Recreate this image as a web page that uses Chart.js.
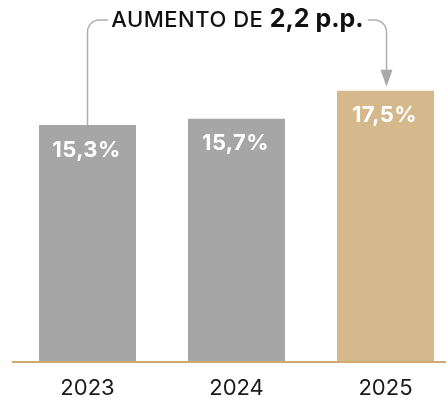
<!DOCTYPE html>
<html>
<head>
<meta charset="utf-8">
<script src="https://cdn.jsdelivr.net/npm/chart.js@4.4.1/dist/chart.umd.min.js"></script>
<style>
  html, body { margin: 0; padding: 0; background: #fff; overflow: hidden; }
  #wrap { width: 460px; height: 398px; position: relative; }
</style>
</head>
<body>
<div id="wrap"><canvas id="chartIndice"></canvas></div>
<script>
// Dados do gráfico
const anos = ['2023', '2024', '2025'];
const valores = [15.3, 15.7, 17.5];
const coresBarras = ['#a6a6a6', '#a6a6a6', '#d5b88c'];

const FONTE = 'Inter, "Noto Sans", sans-serif';

function fmtPct(v) {
    return v.toFixed(1).replace('.', ',') + '%';
}

// Rótulos brancos dentro das barras
const rotulosPlugin = {
    id: 'rotulos',
    afterDatasetsDraw(chart) {
        const ctx = chart.ctx;
        const meta = chart.getDatasetMeta(0);
        ctx.save();
        ctx.fillStyle = '#ffffff';
        ctx.font = '700 22px ' + FONTE;
        ctx.letterSpacing = '0.4px';
        ctx.textAlign = 'center';
        ctx.textBaseline = 'middle';
        meta.data.forEach(function(bar, i) {
            ctx.fillText(fmtPct(valores[i]), bar.x - 1, bar.y + 25);
        });
        ctx.restore();
    }
};

// Chave com seta: "AUMENTO DE x p.p."
const chavePlugin = {
    id: 'chave',
    afterDraw(chart) {
        const ctx = chart.ctx;
        const meta = chart.getDatasetMeta(0);
        const b0 = meta.data[0];
        const b2 = meta.data[meta.data.length - 1];
        const diff = (valores[valores.length - 1] - valores[0]).toFixed(1).replace('.', ',');

        const yLinha = 20;
        const r = 12;
        const txt1 = 'AUMENTO DE ';
        const txt2 = diff + ' p.p.';
        const f1 = '500 22px ' + FONTE;
        const f2 = '700 25px ' + FONTE;
        const ls1 = '0.5px';
        const ls2 = '0px';

        ctx.save();
        ctx.font = f1;
        ctx.letterSpacing = ls1;
        const w1 = ctx.measureText(txt1).width;
        ctx.font = f2;
        ctx.letterSpacing = ls2;
        const w2 = ctx.measureText(txt2).width;
        const meio = meta.data[1].x + 1;
        const x0 = meio - (w1 + w2) / 2;
        const x1 = x0 + w1 + w2;

        ctx.textBaseline = 'alphabetic';
        ctx.textAlign = 'left';
        ctx.fillStyle = '#111111';
        ctx.font = f1;
        ctx.letterSpacing = ls1;
        ctx.fillText(txt1, x0, yLinha + 7);
        ctx.font = f2;
        ctx.letterSpacing = ls2;
        ctx.fillText(txt2, x0 + w1, yLinha + 7);

        ctx.strokeStyle = '#b0b0b0';
        ctx.lineWidth = 1.5;
        // lado esquerdo
        ctx.beginPath();
        ctx.moveTo(b0.x, b0.y);
        ctx.lineTo(b0.x, yLinha + r);
        ctx.arcTo(b0.x, yLinha, b0.x + r, yLinha, r);
        ctx.lineTo(x0 - 3, yLinha);
        ctx.stroke();
        // lado direito
        const xs = b2.x + 1;
        const pontaY = b2.y - 4;
        ctx.beginPath();
        ctx.moveTo(x1 + 4, yLinha);
        ctx.lineTo(xs - r, yLinha);
        ctx.arcTo(xs, yLinha, xs, yLinha + r, r);
        ctx.lineTo(xs, pontaY - 14);
        ctx.stroke();
        // ponta da seta
        ctx.fillStyle = '#a8a8a8';
        ctx.beginPath();
        ctx.moveTo(xs - 6, pontaY - 17);
        ctx.lineTo(xs + 6, pontaY - 17);
        ctx.lineTo(xs, pontaY);
        ctx.closePath();
        ctx.fill();
        ctx.restore();
    }
};

const ctxIndice = document.getElementById('chartIndice').getContext('2d');
new Chart(ctxIndice, {
    type: 'bar',
    data: {
        labels: anos,
        datasets: [{
            data: valores,
            backgroundColor: coresBarras,
            borderWidth: 0,
            barPercentage: 0.651,
            categoryPercentage: 1
        }]
    },
    options: {
        responsive: true,
        maintainAspectRatio: false,
        animation: false,
        layout: { padding: { left: 13, right: 0, top: 0, bottom: 0 } },
        plugins: {
            legend: { display: false },
            tooltip: { enabled: false }
        },
        scales: {
            y: {
                display: false,
                min: 0,
                max: 23.36
            },
            x: {
                grid: { display: false },
                border: { display: true, color: '#cfa96f', width: 2, z: 1 },
                ticks: {
                    color: '#1a1a1a',
                    font: { family: FONTE, size: 22, weight: '400' },
                    padding: 5
                },
                afterFit: function(scale) {
                    scale.height = 36;
                }
            }
        }
    },
    plugins: [rotulosPlugin, chavePlugin]
});
</script>
</body>
</html>
